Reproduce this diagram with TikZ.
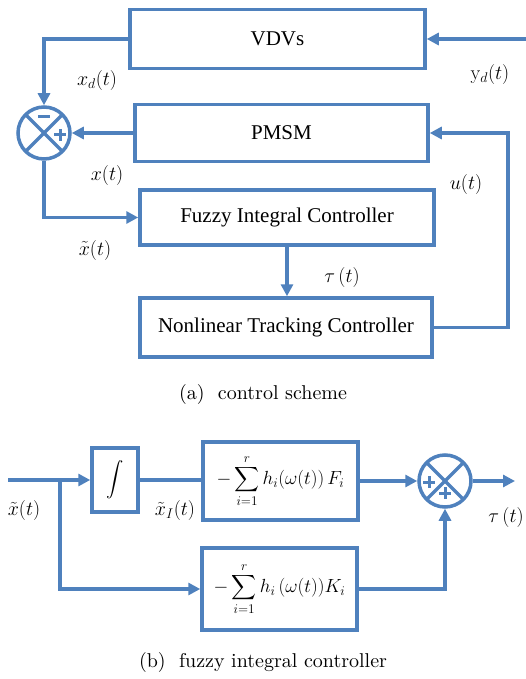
\RequirePackage{fix-cm}
\documentclass[tikz,border=0pt]{standalone}
\usepackage{amsmath}
\usepackage{fontspec}
\newfontfamily\boxfont{Liberation Serif}
\newfontfamily\capfont{lmroman10-regular.otf}
\usetikzlibrary{arrows.meta,calc}
\definecolor{ctrlblue}{RGB}{79,129,189}
\tikzset{
  blk/.style={draw=ctrlblue, line width=3.5pt, rectangle, inner sep=0pt,
              font=\boxfont\fontsize{21}{24}\selectfont},
  mblk/.style={draw=ctrlblue, line width=3.5pt, rectangle, inner sep=0pt,
              font=\fontsize{19}{23}\selectfont},
  wire/.style={draw=ctrlblue, line width=3.5pt},
  arr/.style={wire, -{Triangle[length=12pt,width=12pt]}},
  sgn/.style={draw=ctrlblue, line width=3pt},
  lbl/.style={font=\fontsize{20}{23}\selectfont, inner sep=0pt},
  captext/.style={font=\capfont\fontsize{20}{24}\selectfont, inner sep=0pt},
  sumj/.style={circle, draw=ctrlblue, line width=3.5pt, minimum size=52pt, inner sep=0pt},
}
\begin{document}
\begin{tikzpicture}[x=1pt,y=-1pt]
\useasboundingbox (0,0) rectangle (526,679);

% ---------- (a) control scheme ----------
\node[blk, minimum width=295pt, minimum height=59pt] (vdv) at (277.5,39) {VDVs};
\node[blk, minimum width=293pt, minimum height=57pt] (pmsm) at (281.5,133) {PMSM};
\node[blk, minimum width=294pt, minimum height=55pt] (fic) at (287,217.5) {Fuzzy Integral Controller};
\node[blk, minimum width=292pt, minimum height=59pt] (ntc) at (286,327.5) {Nonlinear Tracking Controller};
\node[sumj] (sum) at (44,133) {};

% cross and signs of the error junction
\draw[wire] ([shift={(45:26)}]sum.center) -- ([shift={(225:26)}]sum.center);
\draw[wire] ([shift={(135:26)}]sum.center) -- ([shift={(-45:26)}]sum.center);
\draw[sgn] ([shift={(-6,-16)}]sum.center) -- ([shift={(6,-16)}]sum.center);
\draw[sgn] ([shift={(10,2)}]sum.center) -- ([shift={(22,2)}]sum.center);
\draw[sgn] ([shift={(16,-4)}]sum.center) -- ([shift={(16,8)}]sum.center);

\coordinate (ydin) at (526,39);
\coordinate (fbk) at (508,0);
\draw[arr] (ydin) -- (vdv.east);
\draw[arr] (vdv.west) -| (sum.north);
\draw[arr] (pmsm.west) -- (sum.east);
\draw[arr] (sum.south) |- (fic.west);
\draw[arr] (fic.south) -- (fic.south |- ntc.north);
\draw[arr] (ntc.east) -- (ntc.east -| fbk) |- (pmsm.east);

\node[lbl] (lxd) at (97,81) {$x_d(t)$};
\node[lbl] (lyd) at (490,75) {$\mathrm{y}_d(t)$};
\node[lbl] (lx) at (107,176) {$x(t)$};
\node[lbl] (lu) at (466,185) {$u(t)$};
\node[lbl] (lxt) at (95,250) {$\tilde{x}(t)$};
\node[lbl] (ltau) at (342,277) {$\tau\,(t)$};
\node[captext] (capa) at (263,394) {(a)\ \ control scheme};

% ---------- (b) fuzzy integral controller ----------
\node[mblk, minimum width=46pt, minimum height=64pt] (intg) at (115,480) {$\displaystyle\int$};
\node[mblk, minimum width=155pt, minimum height=78pt] (fbox) at (280.5,481)
  {$-\displaystyle\sum_{i=1}^{r} h_i(\omega(t))\,F_i$};
\node[mblk, minimum width=155pt, minimum height=82pt] (kbox) at (279.5,589)
  {$-\displaystyle\sum_{i=1}^{r} h_i\,(\omega(t))K_i$};
\node[sumj] (sumb) at (445,481) {};

\draw[wire] ([shift={(45:26)}]sumb.center) -- ([shift={(225:26)}]sumb.center);
\draw[wire] ([shift={(135:26)}]sumb.center) -- ([shift={(-45:26)}]sumb.center);
\draw[sgn] ([shift={(-22,1)}]sumb.center) -- ([shift={(-10,1)}]sumb.center);
\draw[sgn] ([shift={(-16,-5)}]sumb.center) -- ([shift={(-16,7)}]sumb.center);
\draw[sgn] ([shift={(-6,12)}]sumb.center) -- ([shift={(6,12)}]sumb.center);
\draw[sgn] ([shift={(0,6)}]sumb.center) -- ([shift={(0,18)}]sumb.center);

\coordinate (xin) at (8,480);
\coordinate (br) at (60,480);
\coordinate (tauout) at (515,481);
\draw[arr] (xin) -- (intg.west);
\draw[wire] (intg.east) -- (intg.east -| fbox.west);
\draw[arr] (fbox.east) -- (sumb.west);
\draw[arr] (sumb.east) -- (tauout);
\draw[arr] (br) |- (kbox.west);
\draw[arr] (kbox.east) -| (sumb.south);

\node[lbl] (lxb) at (24,510) {$\tilde{x}(t)$};
\node[lbl] (lxi) at (175,510) {$\tilde{x}_I(t)$};
\node[lbl] (ltaub) at (506,517) {$\tau\,(t)$};
\node[captext] (capb) at (263,662) {(b)\ \ fuzzy integral controller};
\end{tikzpicture}
\end{document}
